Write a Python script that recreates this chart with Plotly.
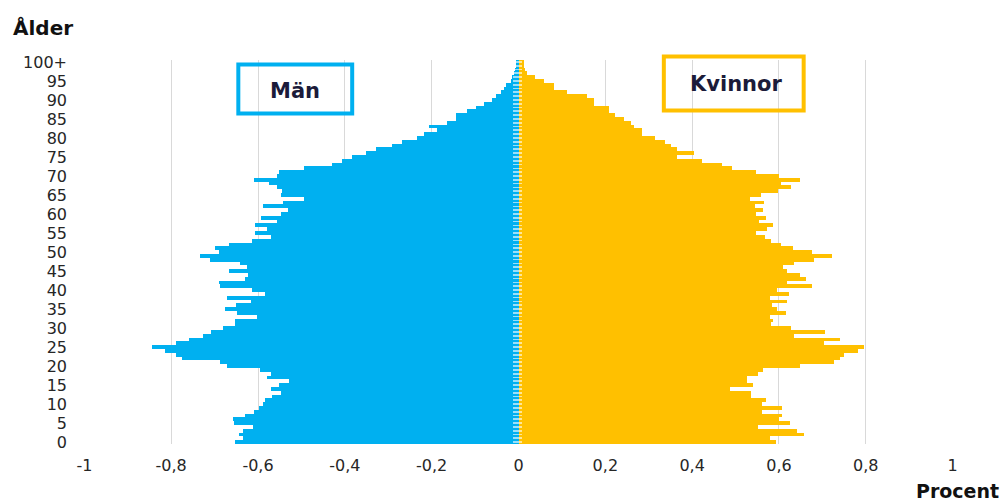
import plotly.graph_objects as go

ages = list(range(101))
age_tick_vals = list(range(0, 101, 5))
age_tick_text = [str(a) for a in range(0, 100, 5)] + ["100+"]

x_tick_vals = [-1, -0.8, -0.6, -0.4, -0.2, 0, 0.2, 0.4, 0.6, 0.8, 1]
x_tick_text = ["-1", "-0,8", "-0,6", "-0,4", "-0,2", "0", "0,2", "0,4", "0,6", "0,8", "1"]

man = [
    -0.654, -0.634, -0.644, -0.634, -0.611, -0.656, -0.657, -0.631, -0.610, -0.598,
    -0.589, -0.583, -0.568, -0.546, -0.569, -0.551, -0.528, -0.579, -0.569, -0.595,
    -0.671, -0.687, -0.775, -0.788, -0.815, -0.844, -0.788, -0.759, -0.727, -0.708,
    -0.681, -0.652, -0.654, -0.602, -0.648, -0.677, -0.650, -0.616, -0.671, -0.585,
    -0.615, -0.687, -0.690, -0.631, -0.623, -0.667, -0.625, -0.641, -0.710, -0.733,
    -0.690, -0.698, -0.667, -0.615, -0.570, -0.606, -0.579, -0.606, -0.556, -0.592,
    -0.547, -0.530, -0.588, -0.543, -0.493, -0.547, -0.545, -0.556, -0.575, -0.610,
    -0.556, -0.552, -0.495, -0.429, -0.406, -0.383, -0.352, -0.329, -0.291, -0.268,
    -0.233, -0.218, -0.187, -0.206, -0.164, -0.145, -0.145, -0.118, -0.098, -0.079,
    -0.060, -0.052, -0.041, -0.033, -0.029, -0.018, -0.014, -0.010, -0.008, -0.006,
    -0.005,
]

kvinnor = [
    0.592, 0.579, 0.657, 0.642, 0.551, 0.625, 0.600, 0.606, 0.560, 0.606,
    0.562, 0.569, 0.536, 0.536, 0.487, 0.540, 0.527, 0.527, 0.551, 0.564,
    0.648, 0.727, 0.740, 0.750, 0.782, 0.796, 0.704, 0.740, 0.634, 0.707,
    0.628, 0.582, 0.587, 0.579, 0.617, 0.596, 0.584, 0.619, 0.579, 0.624,
    0.596, 0.677, 0.619, 0.662, 0.648, 0.619, 0.610, 0.634, 0.680, 0.723,
    0.677, 0.633, 0.604, 0.582, 0.567, 0.546, 0.573, 0.587, 0.554, 0.569,
    0.546, 0.564, 0.544, 0.565, 0.533, 0.559, 0.597, 0.628, 0.605, 0.648,
    0.600, 0.546, 0.492, 0.469, 0.423, 0.365, 0.404, 0.365, 0.352, 0.338,
    0.315, 0.285, 0.285, 0.265, 0.258, 0.242, 0.223, 0.208, 0.208, 0.173,
    0.173, 0.158, 0.112, 0.081, 0.081, 0.058, 0.038, 0.019, 0.014, 0.012,
    0.012,
]

BLUE = "#00b0f0"
GOLD = "#ffc000"
TXT = "#262626"
BOXTXT = "#1b1b3a"

W, H = 1005, 502
L, R = 83.5, 953.5
T, B = 59.5, 444.3

fig = go.Figure()
fig.add_trace(go.Bar(y=ages, x=man, orientation="h", marker=dict(color=BLUE, line=dict(width=0)),
                     name="Män", hoverinfo="skip"))
fig.add_trace(go.Bar(y=ages, x=kvinnor, orientation="h", marker=dict(color=GOLD, line=dict(width=0)),
                     name="Kvinnor", hoverinfo="skip"))
# pale striped band around zero
fig.add_trace(go.Bar(y=ages, x=[0.02] * len(ages), base=[-0.012] * len(ages), orientation="h",
                     width=0.45, marker=dict(color="rgba(255,255,255,0.6)", line=dict(width=0)),
                     hoverinfo="skip", showlegend=False))

def px_x(p):
    return (p - L) / (R - L)

def px_y(p):
    return (B - p) / (B - T)

shapes = [
    dict(type="rect", xref="paper", yref="paper",
         x0=px_x(238), x1=px_x(352), y0=px_y(113), y1=px_y(64),
         line=dict(color=BLUE, width=4), fillcolor="rgba(0,0,0,0)"),
    dict(type="rect", xref="paper", yref="paper",
         x0=px_x(664), x1=px_x(804), y0=px_y(110), y1=px_y(56),
         line=dict(color=GOLD, width=4), fillcolor="rgba(0,0,0,0)"),
]

annotations = [
    dict(text="<b>Män</b>", xref="paper", yref="paper", x=px_x(295), y=px_y(91),
         xanchor="center", yanchor="middle",
         showarrow=False, font=dict(family="DejaVu Sans", size=21, color=BOXTXT)),
    dict(text="<b>Kvinnor</b>", xref="paper", yref="paper", x=px_x(736), y=px_y(84),
         xanchor="center", yanchor="middle",
         showarrow=False, font=dict(family="DejaVu Sans", size=21, color=BOXTXT)),
    dict(text="<b>Ålder</b>", xref="paper", yref="paper", x=px_x(10), y=px_y(27),
         xanchor="left", yanchor="middle", showarrow=False,
         font=dict(family="DejaVu Sans", size=20, color="#111111")),
    dict(text="<b>Procent</b>", xref="paper", yref="paper", x=px_x(1002), y=px_y(491),
         xanchor="right", yanchor="middle", showarrow=False,
         font=dict(family="DejaVu Sans", size=19, color="#111111")),
]

fig.update_layout(
    width=W, height=H,
    margin=dict(l=L, r=W - R, t=T, b=H - B, pad=0),
    paper_bgcolor="white", plot_bgcolor="white",
    barmode="overlay", bargap=0,
    showlegend=False,
    shapes=shapes, annotations=annotations,
    xaxis=dict(range=[-1.0008, 1.0008], tickvals=x_tick_vals, ticktext=x_tick_text,
               showgrid=True, gridcolor="#d9d9d9", gridwidth=1, zeroline=False,
               showline=False, ticks="", ticklabelstandoff=10,
               tickfont=dict(family="DejaVu Sans", size=16, color=TXT), fixedrange=True),
    yaxis=dict(range=[-0.5, 100.5], tickvals=age_tick_vals, ticktext=age_tick_text,
               showgrid=False, zeroline=False, showline=False, ticks="",
               ticklabelstandoff=16,
               tickfont=dict(family="DejaVu Sans", size=16, color=TXT), fixedrange=True),
)

fig.write_html("out.html", config={"displayModeBar": False},
               post_script="document.body.style.margin='0';document.body.style.overflow='hidden';")
